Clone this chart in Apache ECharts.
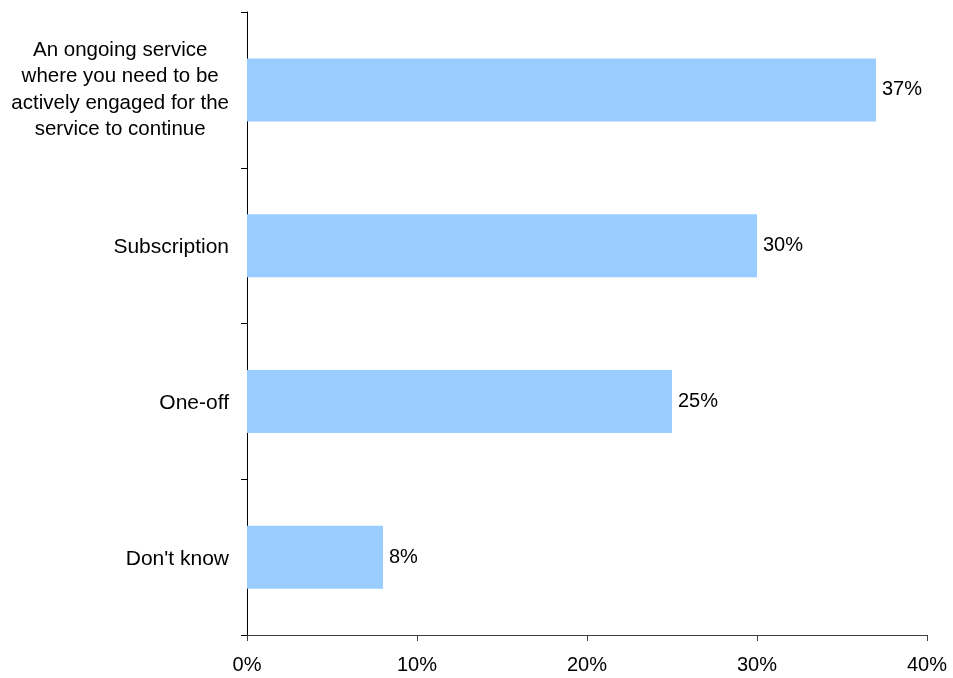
<!DOCTYPE html>
<html>
<head>
<meta charset="utf-8">
<script src="https://cdn.jsdelivr.net/npm/echarts@6/dist/echarts.min.js"></script>
<style>html,body{margin:0;padding:0;background:#fff}#c{width:953px;height:678px}</style>
</head>
<body>
<div id="c"></div>
<script>
var categories = [
  "An ongoing service\nwhere you need to be\nactively engaged for the\nservice to continue",
  "Subscription",
  "One-off",
  "Don't know"
];
var values = [37, 30, 25, 8];
var xTicks = [0, 10, 20, 30, 40];

var FONT = 'Liberation Sans, Arial, sans-serif';
var chart = echarts.init(document.getElementById('c'));
chart.setOption({
  animation: false,
  grid: { left: 247, right: 26, top: 12, bottom: 43, containLabel: false, outerBoundsMode: 'none' },
  xAxis: {
    type: 'value', min: xTicks[0], max: xTicks[xTicks.length - 1], interval: 10,
    axisLine: { show: true, lineStyle: { color: '#404040', width: 1 } },
    axisTick: { show: true, length: 6, lineStyle: { color: '#404040' } },
    splitLine: { show: false },
    axisLabel: { formatter: '{value}%', fontFamily: FONT, fontSize: 20, color: '#000', margin: 20 }
  },
  yAxis: {
    type: 'category', data: categories, inverse: true,
    axisLine: { show: true, lineStyle: { color: '#000', width: 1 } },
    axisTick: { show: true, length: 6, lineStyle: { color: '#000' } },
    axisLabel: {
      margin: 18,
      formatter: function (v) {
        var lines = v.split('\n');
        var key = lines.length > 1 ? 'm' : 's';
        return lines.map(function (l) { return '{' + key + '|' + l + '}'; }).join('\n');
      },
      rich: {
        m: { align: 'center', fontFamily: FONT, fontSize: 20.5, color: '#000', lineHeight: 26.4 },
        s: { align: 'right', fontFamily: FONT, fontSize: 21, color: '#000', lineHeight: 26, padding: [4, 0, 0, 0] }
      }
    }
  },
  series: [{
    type: 'bar', data: values, barWidth: 63,
    itemStyle: { color: '#99CCFF' },
    label: { show: true, position: 'right', distance: 6, formatter: '{c}%', fontFamily: FONT, fontSize: 20, color: '#000' }
  }]
});
</script>
</body>
</html>
